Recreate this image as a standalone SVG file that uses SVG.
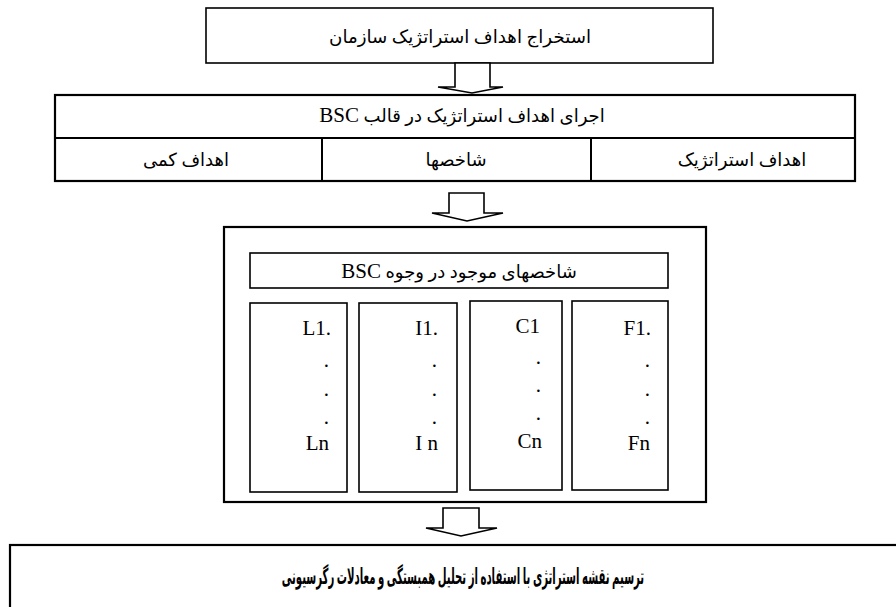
<svg xmlns="http://www.w3.org/2000/svg" width="896" height="607" viewBox="0 0 896 607">
<style>
.box{fill:#fff;stroke:#000;stroke-width:1.6}
.thick{fill:#fff;stroke:#000;stroke-width:2.2}
.ln{stroke:#000;stroke-width:2}
.arrow{fill:#fff;stroke:#000;stroke-width:1.6;stroke-linejoin:miter}
.fa{font-family:"Liberation Serif","DejaVu Sans",serif;font-size:18px;fill:#000}
.en{font-family:"Liberation Serif",serif;font-size:21px}
.lat{font-family:"Liberation Serif",serif;font-size:21px;fill:#000}
.b{font-weight:bold;font-size:22px}
</style>
<rect width="896" height="607" fill="#fff"/>
<g id="top">
<rect class="box" x="206" y="8" width="507" height="55"/>
<text class="fa" x="460" y="43" text-anchor="middle" direction="rtl" textLength="262" lengthAdjust="spacingAndGlyphs">استخراج اهداف استراتژیک سازمان</text>
</g>
<g id="bsc-table">
<rect class="thick" x="55" y="95" width="800" height="86"/>
<line class="ln" x1="55" y1="138" x2="855" y2="138"/>
<line class="ln" x1="322" y1="138" x2="322" y2="181"/>
<line class="ln" x1="591" y1="138" x2="591" y2="181"/>
<text class="fa" x="462" y="122" text-anchor="middle" direction="rtl">اجرای اهداف استراتژیک در قالب <tspan class="en">BSC</tspan></text>
<text class="fa" x="186" y="166" text-anchor="middle" direction="rtl">اهداف کمی</text>
<text class="fa" x="456" y="166" text-anchor="middle" direction="rtl">شاخصها</text>
<text class="fa" x="742" y="166" text-anchor="middle" direction="rtl">اهداف استراتژیک</text>
</g>
<g id="indicators">
<rect class="thick" x="224" y="227" width="482" height="275"/>
<g id="header">
<rect class="box" x="250" y="253" width="418" height="35"/>
<text class="fa" x="459" y="278" text-anchor="middle" direction="rtl">شاخصهای موجود در وجوه <tspan class="en">BSC</tspan></text>
</g>
<g id="L">
<rect class="box" x="250" y="303" width="97" height="189"/>
<text class="lat" x="331" y="335" text-anchor="end">L1.</text>
<text class="lat" x="329" y="367" text-anchor="end">.</text>
<text class="lat" x="329" y="396" text-anchor="end">.</text>
<text class="lat" x="329" y="424" text-anchor="end">.</text>
<text class="lat" x="329" y="450" text-anchor="end">Ln</text>
</g>
<g id="I">
<rect class="box" x="359" y="303" width="98" height="189"/>
<text class="lat" x="438" y="335" text-anchor="end">I1.</text>
<text class="lat" x="437" y="367" text-anchor="end">.</text>
<text class="lat" x="437" y="396" text-anchor="end">.</text>
<text class="lat" x="437" y="424" text-anchor="end">.</text>
<text class="lat" x="438" y="450" text-anchor="end">I n</text>
</g>
<g id="C">
<rect class="box" x="470" y="301" width="92" height="189"/>
<text class="lat" x="540" y="333" text-anchor="end">C1</text>
<text class="lat" x="541" y="364" text-anchor="end">.</text>
<text class="lat" x="541" y="392" text-anchor="end">.</text>
<text class="lat" x="541" y="420" text-anchor="end">.</text>
<text class="lat" x="542" y="448" text-anchor="end">Cn</text>
</g>
<g id="F">
<rect class="box" x="572" y="301" width="96" height="189"/>
<text class="lat" x="651" y="335" text-anchor="end">F1.</text>
<text class="lat" x="650" y="367" text-anchor="end">.</text>
<text class="lat" x="650" y="396" text-anchor="end">.</text>
<text class="lat" x="650" y="424" text-anchor="end">.</text>
<text class="lat" x="650" y="450" text-anchor="end">Fn</text>
</g>
</g>
<g id="result">
<rect class="thick" x="10" y="545" width="900" height="80"/>
<text class="fa b" transform="translate(463,584) scale(0.46,1)" x="0" y="0" text-anchor="middle" direction="rtl">ترسیم نقشه استراتژی با استفاده از تحلیل همبستگی و معادلات رگرسیونی</text>
</g>
<g id="connectors">
<polygon class="arrow" points="455,63 455,87 438,87 472,93 503,87 490,87 490,63"/>
<polygon class="arrow" points="449,193 449,213 432,213 467,221 503,213 484,213 484,193"/>
<polygon class="arrow" points="443,508 443,528 426,528 461,536 497,528 479,528 479,508"/>
</g>
</svg>
